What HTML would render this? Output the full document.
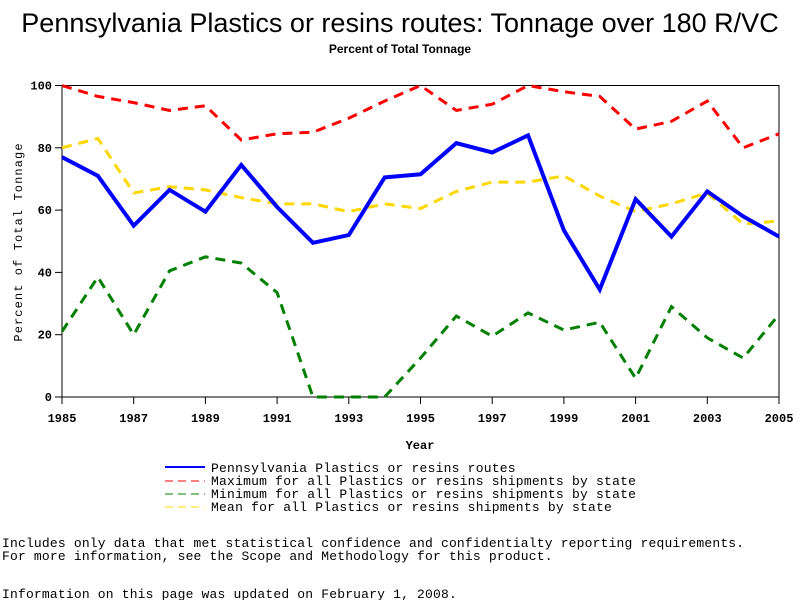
<!DOCTYPE html>
<html><head><meta charset="utf-8"><style>
body{margin:0;background:#fff;width:800px;height:600px;overflow:hidden}
text{font-family:"Liberation Mono",monospace}
</style></head><body>
<svg id="chart" width="800" height="600" xmlns="http://www.w3.org/2000/svg">
<text x="400" y="32" text-anchor="middle" style="font-family:'Liberation Sans',sans-serif;font-size:27px">Pennsylvania Plastics or resins routes: Tonnage over 180 R/VC</text>
<text x="400" y="53" text-anchor="middle" style="font-family:'Liberation Sans',sans-serif;font-size:12px;font-weight:bold">Percent of Total Tonnage</text>
<rect x="62" y="85.5" width="717" height="311.5" fill="none" stroke="#000" stroke-width="1"/>
<g id="axes"></g>
<g id="series"></g>
<text x="420" y="449" text-anchor="middle" font-size="12" font-weight="bold">Year</text>
<text transform="translate(22,242) rotate(-90)" text-anchor="middle" font-size="12" letter-spacing="1.1">Percent of Total Tonnage</text>
<g font-size="13" letter-spacing="0.22">
<line x1="165" y1="467" x2="205" y2="467" stroke="#0000ff" stroke-width="2"/>
<text x="211" y="472">Pennsylvania Plastics or resins routes</text>
<line x1="165" y1="481" x2="205" y2="481" stroke="#ff0000" stroke-dasharray="8,5"/>
<text x="211" y="485">Maximum for all Plastics or resins shipments by state</text>
<line x1="165" y1="494" x2="205" y2="494" stroke="#008000" stroke-dasharray="8,5"/>
<text x="211" y="498">Minimum for all Plastics or resins shipments by state</text>
<line x1="165" y1="507" x2="205" y2="507" stroke="#ffd700" stroke-dasharray="8,5"/>
<text x="211" y="511">Mean for all Plastics or resins shipments by state</text>
</g>
<g font-size="13" letter-spacing="0.18">
<text x="2" y="547">Includes only data that met statistical confidence and confidentialty reporting requirements.</text>
<text x="2" y="560">For more information, see the Scope and Methodology for this product.</text>
<text x="2" y="598">Information on this page was updated on February 1, 2008.</text>
</g>
</svg>
<script>
const years=[1985,1986,1987,1988,1989,1990,1991,1992,1993,1994,1995,1996,1997,1998,1999,2000,2001,2002,2003,2004,2005];
const paValues=[77,71,55,66.5,59.5,74.5,61,49.5,52,70.5,71.5,81.5,78.5,84,53.5,34.5,63.5,51.5,66,58,51.5];
const maxValues=[100,96.5,94.5,92,93.5,82.5,84.5,85,89.5,95,100,92,94,100,98,96.5,86,88.5,95,80,84.5];
const minValues=[21,38.5,20,40.5,45,43,33.5,0,0,0,12.5,26,19.5,27,21.5,24,6,29,19,12.5,26.5];
const meanValues=[80,83,65.5,67.5,66.5,64,62,62,59.5,62,60.5,66,69,69,71,64.5,59.5,62,65.5,55.5,56.5];
const xTicks=[1985,1987,1989,1991,1993,1995,1997,1999,2001,2003,2005];
const yTicks=[0,20,40,60,80,100];
const NS="http://www.w3.org/2000/svg";
const xs=y=>62+(y-1985)*(717/20);
const ys=v=>397-v*3.115;
const ax=document.getElementById('axes');
function mk(t,a,p){const e=document.createElementNS(NS,t);for(const k in a)e.setAttribute(k,a[k]);p.appendChild(e);return e;}
xTicks.forEach(t=>{
 const l=mk('line',{x1:xs(t),x2:xs(t),y1:397,y2:404,stroke:'#000'},ax);
 
 
 const tx=mk('text',{x:xs(t),y:422,'text-anchor':'middle','font-size':12,'font-weight':'bold'},ax);tx.textContent=t;
 
 
});
yTicks.forEach(t=>{
 const l=mk('line',{x1:55,x2:62,y1:ys(t),y2:ys(t),stroke:'#000'},ax);
 
 
 const tx=mk('text',{x:52,y:ys(t)+4,'text-anchor':'end','font-size':12,'font-weight':'bold'},ax);tx.textContent=t;
 
 
});
const sg=document.getElementById('series');
function line(vals,color,w,dash,name){
 const p=mk('polyline',{points:vals.map((v,i)=>xs(years[i])+','+ys(v)).join(' '),fill:'none',stroke:color,'stroke-width':w},sg);
 if(dash)p.setAttribute('stroke-dasharray',dash);
 
 
}
line(maxValues,'#ff0000',3,'10,7','max-line');
line(minValues,'#008000',3,'10,7','min-line');
line(meanValues,'#ffd700',3,'10,7','mean-line');
line(paValues,'#0000ff',4,null,'pennsylvania-line');
</script>
</body></html>
